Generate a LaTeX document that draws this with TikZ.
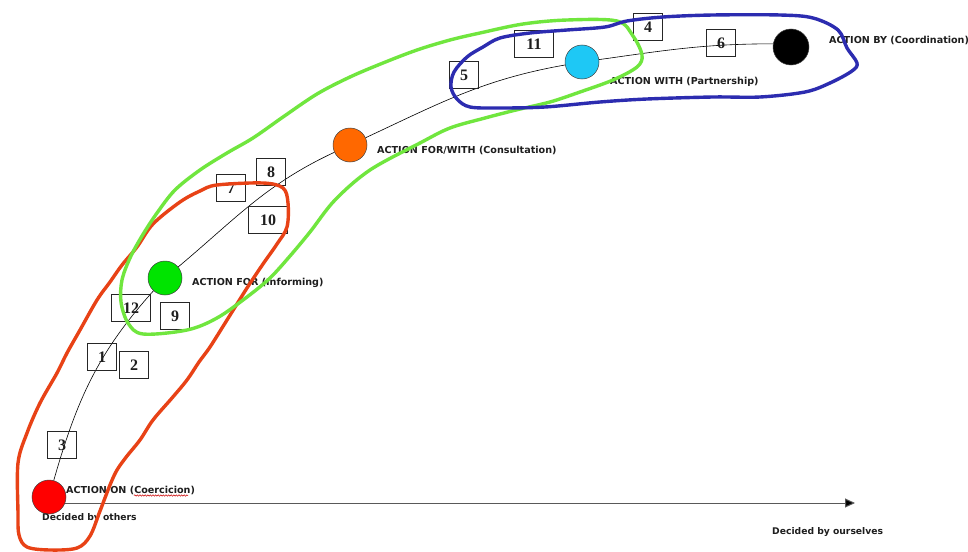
\documentclass[tikz,border=0pt]{standalone}
\usepackage{fontspec}
\newfontfamily\lblfam{DejaVu Sans}
\newfontfamily\numfam{Liberation Serif}
\usetikzlibrary{arrows.meta,decorations.pathmorphing}
\definecolor{loopred}{RGB}{232,66,22}
\definecolor{loopgreen}{RGB}{112,230,62}
\definecolor{loopblue}{RGB}{44,44,176}
\definecolor{cred}{RGB}{255,0,0}
\definecolor{cgreen}{RGB}{0,228,0}
\definecolor{corange}{RGB}{255,104,0}
\definecolor{ccyan}{RGB}{30,200,245}
\definecolor{txt}{RGB}{30,30,30}
\tikzset{
  circ/.style={circle,draw=black!75,line width=0.5pt,minimum size=34pt,inner sep=0pt},
  numbox/.style={draw=black!85,line width=0.7pt,minimum height=27pt,minimum width=29pt,inner sep=0pt,font=\numfam\bfseries\fontsize{16}{17}\selectfont,text=txt},
  widebox/.style={numbox,minimum width=39pt},
  lbl/.style={anchor=west,inner sep=0pt,text=txt,font=\lblfam\bfseries\fontsize{9.6}{11}\selectfont},
  smalllbl/.style={lbl,font=\lblfam\bfseries\fontsize{9.2}{11}\selectfont},
  curve/.style={draw=black,line width=0.6pt},
  axisline/.style={draw=black!65,line width=1pt,-{Triangle[length=10pt,width=9pt,fill=black]}},
  hand/.style={line width=3.4pt,line join=round,line cap=round}
}
\begin{document}
\begin{tikzpicture}[x=1pt,y=-1pt]
\useasboundingbox[fill=white] (0,0) rectangle (968,551);
% axis
\coordinate (axs) at (49,503);
\coordinate (axe) at (855,503);
\draw[axisline] (axs) -- (axe);
% circles
\node[circ,fill=cred] (red) at (49,497) {};
\node[circ,fill=cgreen] (green) at (165,278) {};
\node[circ,fill=corange] (orange) at (350,145) {};
\node[circ,fill=ccyan] (cyan) at (582,62) {};
\node[circ,fill=black,minimum size=36pt] (black) at (791,47) {};
% curve
\draw[curve] (red) to[out=74,in=228] (green);
\draw[curve] (green) to[out=40,in=205] (orange);
\draw[curve] (orange) to[out=25,in=190] (cyan);
\draw[curve] (cyan) to[out=8,in=180] (black.170);
% boxes
\node[numbox] (b1) at (102,357) {1};
\node[numbox] (b2) at (134,365) {2};
\node[numbox] (b3) at (62,445) {3};
\node[numbox] (b4) at (648,27) {4};
\node[numbox] (b5) at (464,75) {5};
\node[numbox] (b6) at (721,43) {6};
\node[numbox] (b7) at (231,188) {7};
\node[numbox] (b8) at (271,172) {8};
\node[numbox] (b9) at (175,316) {9};
\node[widebox] (b10) at (268,220) {10};
\node[widebox] (b11) at (534,44) {11};
\node[widebox] (b12) at (131,308) {12};
% labels
\node[lbl] (lon) at (66,490) {ACTION ON (Coercicion)};
\node[smalllbl] (lothers) at (42,518) {Decided by others};
\node[smalllbl] (lours) at (772,532) {Decided by ourselves};
\node[lbl] (lfor) at (192,283) {ACTION FOR (Informing)};
\node[lbl] (lforwith) at (377,150) {ACTION FOR/WITH (Consultation)};
\node[lbl] (lwith) at (610,82) {ACTION WITH (Partnership)};
\node[lbl] (lby) at (829,40) {ACTION BY (Coordination)};
\draw[red!80!black,line width=0.5pt,decorate,decoration={snake,amplitude=0.7pt,segment length=2.6pt}] (134,495.5) -- (188,495.5);
% hand-drawn loops
\draw[hand,loopred] plot[smooth cycle,tension=0.55] coordinates {
(27,547) (19,535) (18,513) (18,463) (27,433) (40,403) (57,373) (67,353) (80,330)
(97,300) (110,282) (122,265) (137,247) (153,224) (180,202) (200,191) (217,185)
(263,183) (283,188) (288,203) (287,227) (277,244) (263,264) (247,288) (227,320)
(210,347) (199,362) (187,380) (172,398) (153,420) (140,440) (127,456) (117,470)
(110,485) (100,511) (90,536) (77,548) (50,550)};
\draw[hand,loopgreen] plot[smooth cycle,tension=0.55] coordinates {
(143,334) (128,323) (121,302) (122,280) (130,258) (142,236) (157,213) (175,190)
(200,170) (227,153) (253,138) (283,117) (317,94) (350,77) (383,63) (417,50)
(450,40) (480,33) (523,24) (567,20) (617,21) (633,36) (642,55) (637,67) (613,80)
(580,92) (550,102) (516,110) (485,118) (450,128) (420,143) (370,170) (335,200)
(310,232) (290,256) (270,278) (247,297) (217,318) (187,330)};
\draw[hand,loopblue] plot[smooth cycle,tension=0.55] coordinates {
(451,87) (454,72) (467,57) (483,47) (500,38) (530,33) (567,30) (605,27) (627,21)
(663,17) (713,15) (780,15) (813,18) (838,30) (847,48) (857,63) (852,71) (830,83)
(805,92) (760,97) (713,97) (647,99) (600,102) (545,107) (500,108) (470,107) (457,99)};
\end{tikzpicture}
\end{document}
